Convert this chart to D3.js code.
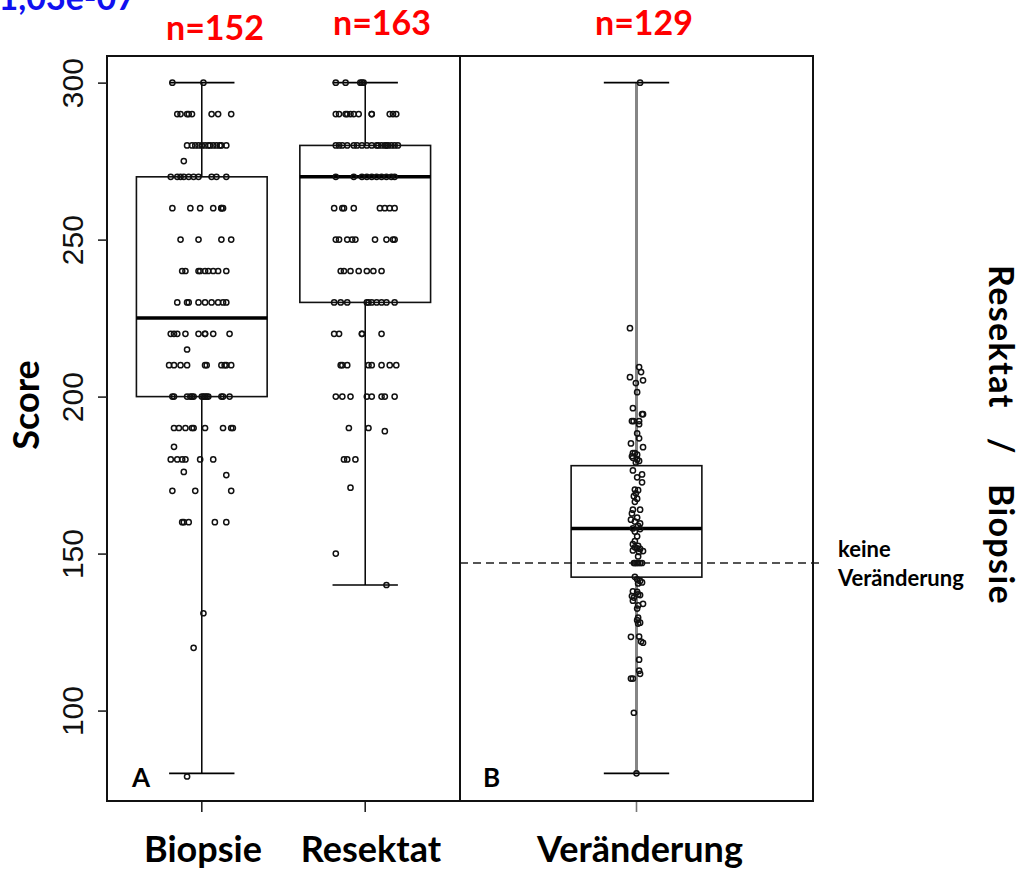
<!DOCTYPE html>
<html>
<head>
<meta charset="utf-8">
<script src="https://cdn.jsdelivr.net/npm/d3@7"></script>
<style>
  body { margin: 0; background: #fff; }
  svg { display: block; }
  .lbl { font-family: Lato, "Open Sans", sans-serif; font-weight: 700; }
  .tick text { font-family: "Liberation Sans", Arial, sans-serif; }
</style>
</head>
<body>
<svg id="chart" width="1025" height="869"></svg>
<script>
// ---- data ----
const groupNames = ["Biopsie", "Resektat", "Veränderung"];
const groupCounts = ["n=152", "n=163", "n=129"];
const yTicks = [100, 150, 200, 250, 300];
const pValueText = "1,03e-07";
const referenceLevel = 147; // keine Veränderung

// box statistics: lower whisker, Q1, median, Q3, upper whisker
const whiskerLow  = [80, 140, 80];
const quart1      = [200, 230, 142.5];
const medians     = [225, 270, 158];
const quart3      = [270, 280, 178];
const whiskerHigh = [300, 300, 300];

// individual scores with their horizontal jitter (axis units)
const biopsieScores = [
  300,300,
  290,290,290,290,290,290,290,290,
  280,280,280,280,280,280,280,280,280,280,280,280,280,
  275,
  270,270,270,270,270,270,270,270,270,270,
  260,260,260,260,260,260,260,
  250,250,250,250,
  240,240,240,240,240,240,240,240,240,
  230,230,230,230,230,230,230,230,230,
  220,220,220,220,220,220,220,220,220,
  215,
  210,210,210,210,210,210,210,210,210,210,
  200,200,200,200,200,200,200,200,200,200,200,200,200,200,
  190,190,190,190,190,190,190,190,190,
  184,
  180,180,180,180,180,180,
  176,175,
  170,170,170,
  160,160,160,160,160,
  131,120,79
];
const biopsieJitter = [
  -0.18,0.01,
  -0.15,-0.13,-0.09,-0.08,-0.06,0.06,0.10,0.18,
  -0.09,-0.06,-0.04,-0.02,0,0.02,0.04,0.05,0.07,0.09,0.11,0.12,0.15,
  -0.11,
  -0.19,-0.15,-0.13,-0.11,-0.08,-0.05,-0.02,0.06,0.09,0.15,
  -0.18,-0.07,-0.01,0.07,0.12,0.12,0.13,
  -0.13,-0.02,0.12,0.18,
  -0.12,-0.10,-0.02,-0.01,0.02,0.04,0.07,0.10,0.15,
  -0.15,-0.09,-0.08,-0.02,0.02,0.06,0.10,0.13,0.15,
  -0.19,-0.17,-0.15,-0.10,-0.02,0.02,0.02,0.07,0.17,
  -0.09,
  -0.20,-0.17,-0.13,-0.09,0.02,0.03,0.12,0.14,0.15,0.18,
  -0.18,-0.17,-0.09,-0.07,-0.06,-0.05,0,0.01,0.02,0.03,0.04,0.12,0.13,0.17,
  -0.17,-0.14,-0.10,-0.06,-0.05,0.02,0.13,0.18,0.19,
  -0.17,
  -0.19,-0.15,-0.12,-0.10,-0.01,0.07,
  -0.11,0.15,
  -0.18,-0.04,0.18,
  -0.12,-0.11,-0.08,0.08,0.15,
  0.01,-0.05,-0.09
];

const resektatScores = [
  300,300,300,300,300,
  290,290,290,290,290,290,290,290,290,290,290,290,
  280,280,280,280,280,280,280,280,280,280,280,280,280,280,280,280,280,280,
  270,270,270,270,270,270,270,270,270,270,
  260,260,260,260,260,260,260,260,
  250,250,250,250,250,250,250,250,250,
  240,240,240,240,240,240,240,
  230,230,230,230,230,230,230,230,230,230,
  220,220,220,220,220,
  210,210,210,210,210,210,210,210,
  200,200,200,200,200,200,200,200,
  190,190,189,
  180,180,180,
  171,150,140
];
const resektatJitter = [
  -0.18,-0.12,-0.03,-0.02,-0.01,
  -0.18,-0.16,-0.12,-0.11,-0.09,-0.07,-0.04,0.04,0.04,0.15,0.17,0.19,
  -0.18,-0.16,-0.14,-0.11,-0.07,-0.05,-0.02,0.01,0.04,0.07,0.08,0.10,0.12,0.13,0.14,0.16,0.18,0.20,
  -0.18,-0.07,-0.02,0.01,0.04,0.07,0.10,0.13,0.16,0.18,
  -0.19,-0.14,-0.13,-0.07,0.09,0.12,0.15,0.18,
  -0.18,-0.16,-0.11,-0.08,-0.06,0.06,0.13,0.17,0.18,
  -0.15,-0.13,-0.09,-0.04,0.01,0.05,0.10,
  -0.19,-0.15,-0.11,0.01,0.02,0.04,0.07,0.10,0.13,0.18,
  -0.19,-0.16,-0.02,-0.02,0.10,
  -0.15,-0.14,-0.11,0.02,0.04,0.10,0.15,0.19,
  -0.18,-0.14,-0.09,0.01,0.04,0.10,0.12,0.18,
  -0.10,0.02,0.12,
  -0.13,-0.11,-0.06,
  -0.09,-0.18,0.13
];

const changeScores = [
  300,221.8,209.4,207.8,206.2,205.2,204.3,201.4,196.3,194.4,194.4,
  192.2,192.2,192.2,191.2,188.3,186.7,185.1,183.9,182,182,181.5,181,
  180.5,180,179.5,179,176.5,175.2,174.3,172.7,170.4,170.2,169.2,168.3,
  167.5,166.5,164,164,162.8,161.5,160.8,160.2,159.6,158.8,158,157.8,157,
  155.5,154,153,152.5,152,151.7,151.5,151,150.8,150.5,149.1,
  147,147,147,147,147,147,
  142.6,141.8,141.3,140.8,140.5,138,137.8,137,136.8,136.5,136,135,134,
  133.5,132.5,129.6,128.8,128,127.7,123.6,123.5,122,121.6,116.2,112.7,
  111.7,110.2,110.2,99.3,80
];
const changeJitter = [
  0.011,-0.020,0.008,0.014,-0.020,0.020,-0.002,0.002,-0.011,0.017,0.020,
  -0.014,-0.009,0.008,0.008,0.002,0.008,-0.017,0.020,-0.011,-0.005,0.002,-0.014,
  -0.011,0.002,0.008,-0.002,-0.011,0.017,0.002,0.017,-0.005,0.005,-0.002,-0.008,
  0.002,-0.005,-0.011,0.011,-0.014,0.002,-0.017,-0.005,0.011,0.005,-0.011,0.011,-0.005,
  0.002,-0.005,-0.011,0.005,-0.005,0.002,0.011,-0.011,0.020,0.008,0.005,
  -0.008,-0.005,0,0.005,0.011,0.017,
  -0.005,0.002,0.011,0.017,0.005,-0.011,0.002,0.005,0.011,-0.014,-0.008,-0.011,0.020,
  0.005,0.002,0.005,0.002,0.011,0.005,0.008,-0.017,0.014,0.020,0.008,0.008,
  0.011,-0.017,-0.011,-0.008,0
];

// ---- layout ----
const svg = d3.select("#chart");
const y = d3.scaleLinear().domain([71.2, 308.8]).range([801, 55]);
const xA = d3.scaleLinear().domain([0.42, 2.58]).range([107, 460]);
const xB = d3.scaleLinear().domain([0.46, 1.54]).range([460, 813]);

const panels = [
  { x: xA, pos: 1, idx: 0, half: 0.4, cap: 0.2, scores: biopsieScores, jitter: biopsieJitter, whisk: "#000", whiskW: 1.5 },
  { x: xA, pos: 2, idx: 1, half: 0.4, cap: 0.2, scores: resektatScores, jitter: resektatJitter, whisk: "#000", whiskW: 1.5 },
  { x: xB, pos: 1, idx: 2, half: 0.2, cap: 0.1, scores: changeScores, jitter: changeJitter, whisk: "#858585", whiskW: 3 }
];

// reference line for "no change"
svg.append("line")
  .attr("x1", 460).attr("x2", 822)
  .attr("y1", y(referenceLevel)).attr("y2", y(referenceLevel))
  .attr("stroke", "#555").attr("stroke-width", 2)
  .attr("stroke-dasharray", "8,5");

panels.forEach(p => {
  const i = p.idx, cx = p.x(p.pos);
  const g = svg.append("g");
  const bx0 = p.x(p.pos - p.half), bx1 = p.x(p.pos + p.half);
  const cx0 = p.x(p.pos - p.cap), cx1 = p.x(p.pos + p.cap);
  // whiskers
  g.append("line").attr("x1", cx).attr("x2", cx)
    .attr("y1", y(whiskerHigh[i])).attr("y2", y(quart3[i]))
    .attr("stroke", p.whisk).attr("stroke-width", p.whiskW);
  g.append("line").attr("x1", cx).attr("x2", cx)
    .attr("y1", y(quart1[i])).attr("y2", y(whiskerLow[i]))
    .attr("stroke", p.whisk).attr("stroke-width", p.whiskW);
  [whiskerHigh[i], whiskerLow[i]].forEach(v => {
    g.append("line").attr("x1", cx0).attr("x2", cx1)
      .attr("y1", y(v)).attr("y2", y(v))
      .attr("stroke", "#000").attr("stroke-width", 1.6);
  });
  // box
  g.append("rect")
    .attr("x", bx0).attr("y", y(quart3[i]))
    .attr("width", bx1 - bx0).attr("height", y(quart1[i]) - y(quart3[i]))
    .attr("fill", "none").attr("stroke", "#111").attr("stroke-width", 1.6);
  g.append("line").attr("x1", bx0).attr("x2", bx1)
    .attr("y1", y(medians[i])).attr("y2", y(medians[i]))
    .attr("stroke", "#000").attr("stroke-width", 3.5);
  // jittered points
  g.selectAll("circle").data(p.scores).join("circle")
    .attr("cx", (d, k) => p.x(p.pos + p.jitter[k]))
    .attr("cy", d => y(d))
    .attr("r", 2.6)
    .attr("fill", "none").attr("stroke", "#111").attr("stroke-width", 1.5);
  // bottom tick
  g.append("line").attr("x1", cx).attr("x2", cx)
    .attr("y1", 801).attr("y2", 812)
    .attr("stroke", i === 2 ? "#777" : "#222").attr("stroke-width", 1.6);
  // category label
  svg.append("text").attr("class", "lbl")
    .attr("x", [203, 371, 640][i]).attr("y", 862)
    .attr("text-anchor", "middle").attr("font-size", 36)
    .text(groupNames[i]);
  // count label
  svg.append("text").attr("class", "lbl")
    .attr("x", [215, 382, 644][i]).attr("y", [40, 35, 35][i])
    .attr("text-anchor", "middle").attr("font-size", 34)
    .attr("fill", "#ff0000")
    .text(groupCounts[i]);
});

// panel frames
svg.append("rect").attr("x", 107).attr("y", 56).attr("width", 353).attr("height", 745)
  .attr("fill", "none").attr("stroke", "#111").attr("stroke-width", 2);
svg.append("rect").attr("x", 460).attr("y", 56).attr("width", 353).attr("height", 745)
  .attr("fill", "none").attr("stroke", "#111").attr("stroke-width", 2);

// y axis
const axis = svg.append("g").attr("transform", "translate(107,0)")
  .call(d3.axisLeft(y).tickValues(yTicks).tickSize(9).tickSizeOuter(0));
axis.select(".domain").remove();
axis.selectAll(".tick line").attr("stroke", "#222").attr("stroke-width", 1.6);
axis.selectAll(".tick text")
  .attr("transform", "rotate(-90)")
  .attr("x", 0).attr("y", -24).attr("dy", 0)
  .attr("text-anchor", "middle")
  .attr("font-size", 30).attr("fill", "#111");

// axis titles
svg.append("text").attr("class", "lbl")
  .attr("transform", "translate(39,405) rotate(-90)")
  .attr("text-anchor", "middle").attr("font-size", 36)
  .text("Score");
svg.append("text").attr("class", "lbl")
  .attr("transform", "translate(989,435) rotate(90)")
  .attr("text-anchor", "middle").attr("font-size", 34)
  .attr("letter-spacing", 1.4)
  .style("white-space", "pre")
  .text("Resektat   /   Biopsie");

// panel letters
svg.append("text").attr("class", "lbl").attr("x", 132).attr("y", 787)
  .attr("font-size", 26).text("A");
svg.append("text").attr("class", "lbl").attr("x", 483).attr("y", 787)
  .attr("font-size", 26).text("B");

// reference line note
svg.append("text").attr("class", "lbl").attr("x", 838).attr("y", 557)
  .attr("font-size", 22).text("keine");
svg.append("text").attr("class", "lbl").attr("x", 838).attr("y", 586)
  .attr("font-size", 22).text("Veränderung");

// p-value
svg.append("text").attr("class", "lbl").attr("x", 136).attr("y", 10)
  .attr("text-anchor", "end").attr("font-size", 34)
  .attr("fill", "#1010f0")
  .text(pValueText);
</script>
</body>
</html>
